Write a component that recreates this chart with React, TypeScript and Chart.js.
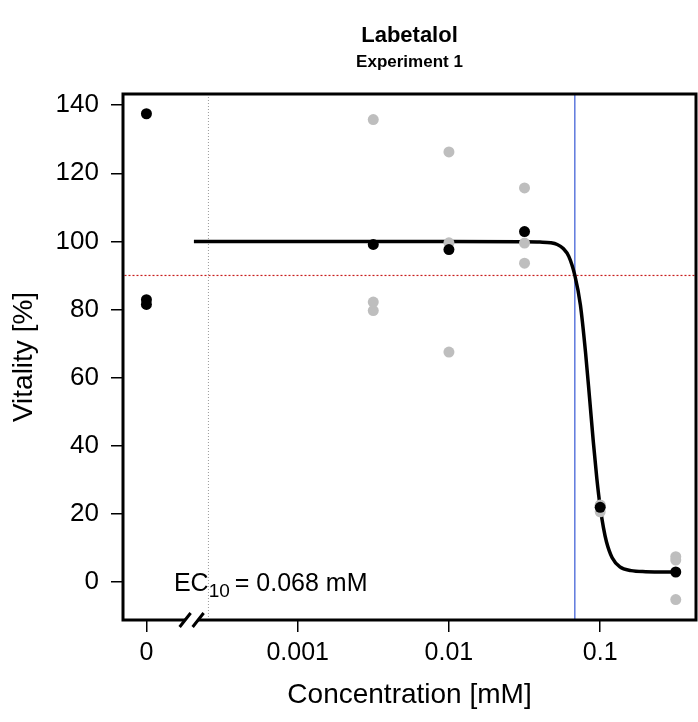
import React, { useEffect, useRef } from "react";
import { Chart, registerables } from "chart.js";

Chart.register(...registerables);

const FONT = "'Liberation Sans', Arial, sans-serif";

const TITLE = "Labetalol";
const SUBTITLE = "Experiment 1";
const X_LABEL = "Concentration [mM]";
const Y_LABEL = "Vitality [%]";

const X_TICKS = [0.0001, 0.001, 0.01, 0.1];
const X_TICK_LABELS = ["0", "0.001", "0.01", "0.1"];
const Y_TICKS = [0, 20, 40, 60, 80, 100, 120, 140];

const X_MIN = 7.16e-5;
const X_MAX = 0.43;
const Y_MIN = -11.2;
const Y_MAX = 143.3;

// Control (concentration 0, drawn at the "0" position)
const CONTROL_X = [0.0001, 0.0001, 0.0001];
const CONTROL_Y = [137.5, 82.9, 81.5];

// Replicate measurements (gray)
const REP_X = [0.00316, 0.00316, 0.00316, 0.01, 0.01, 0.01, 0.0316, 0.0316, 0.0316, 0.1, 0.1, 0.1, 0.316, 0.316, 0.316];
const REP_Y = [135.8, 82.2, 79.7, 126.3, 99.6, 67.5, 115.7, 99.5, 93.6, 22.6, 22.4, 20.6, 7.4, 6.4, -5.2];

// Means (black)
const MEAN_X = [0.00316, 0.01, 0.0316, 0.1, 0.316];
const MEAN_Y = [99.1, 97.6, 102.9, 21.9, 2.9];

// Fitted dose-response curve
const CURVE_X = [0.000206, 0.001, 0.01, 0.03, 0.04, 0.047, 0.052, 0.057, 0.062, 0.068, 0.074, 0.08, 0.085, 0.09, 0.095, 0.1, 0.105, 0.11, 0.12, 0.135, 0.16, 0.2, 0.316];
const CURVE_Y = [100, 100, 100, 99.9, 99.8, 99.6, 99.1, 97.9, 95.6, 90, 81.3, 67.4, 54.2, 41.3, 30.4, 22, 16, 11.8, 7.1, 4.4, 3.3, 3.0, 2.9];

const EC10 = 0.068;
const EC_LEVEL = 90;
const GUIDE_X = 0.000257;
const BREAK_X = 0.000199;
const EC_TEXT_MAIN = "EC";
const EC_TEXT_SUB = "10";
const EC_TEXT_REST = "= 0.068 mM";
const EC_TEXT_X = 0.000152;
const EC_TEXT_Y = 0;

const pts = (xs: number[], ys: number[]) => xs.map((x, i) => ({ x, y: ys[i] }));

const decorations = {
  id: "decorations",
  beforeDraw(chart: any) {
    const { ctx, chartArea } = chart;
    const cx = (chartArea.left + chartArea.right) / 2;
    ctx.save();
    ctx.fillStyle = "#ffffff";
    ctx.fillRect(0, 0, chart.width, chart.height);
    ctx.fillStyle = "#000";
    ctx.textAlign = "center";
    ctx.textBaseline = "middle";
    ctx.font = `bold 22px ${FONT}`;
    ctx.fillText(TITLE, cx, 36);
    ctx.font = `bold 17px ${FONT}`;
    ctx.fillText(SUBTITLE, cx, 62);
    // axis titles
    ctx.font = `28px ${FONT}`;
    ctx.fillText(X_LABEL, cx, 695);
    ctx.save();
    ctx.translate(24, (chartArea.top + chartArea.bottom) / 2);
    ctx.rotate(-Math.PI / 2);
    ctx.fillText(Y_LABEL, 0, 0);
    ctx.restore();
    ctx.restore();
  },
  afterDraw(chart: any) {
    const { ctx, chartArea, scales } = chart;
    const xs = scales.x;
    const ys = scales.y;
    ctx.save();
    // box
    ctx.strokeStyle = "#000";
    ctx.lineWidth = 3;
    ctx.strokeRect(chartArea.left, chartArea.top, chartArea.right - chartArea.left, chartArea.bottom - chartArea.top);
    // axis break
    const bx = xs.getPixelForValue(BREAK_X);
    const by = chartArea.bottom;
    ctx.fillStyle = "#fff";
    ctx.beginPath();
    ctx.moveTo(bx - 12, by + 7);
    ctx.lineTo(bx - 1, by - 7);
    ctx.lineTo(bx + 12, by - 7);
    ctx.lineTo(bx + 1, by + 7);
    ctx.closePath();
    ctx.fill();
    ctx.lineWidth = 3;
    ctx.beginPath();
    ctx.moveTo(bx - 12, by + 7);
    ctx.lineTo(bx - 1, by - 7);
    ctx.moveTo(bx + 1, by + 7);
    ctx.lineTo(bx + 12, by - 7);
    ctx.stroke();
    // EC label
    const tx = xs.getPixelForValue(EC_TEXT_X);
    const ty = ys.getPixelForValue(EC_TEXT_Y) + 9;
    ctx.fillStyle = "#000";
    ctx.textAlign = "left";
    ctx.textBaseline = "alphabetic";
    ctx.font = `25px ${FONT}`;
    ctx.fillText(EC_TEXT_MAIN, tx, ty);
    let w = ctx.measureText(EC_TEXT_MAIN).width;
    ctx.font = `19px ${FONT}`;
    ctx.fillText(EC_TEXT_SUB, tx + w, ty + 6);
    w += ctx.measureText(EC_TEXT_SUB).width + 5;
    ctx.font = `25px ${FONT}`;
    ctx.fillText(EC_TEXT_REST, tx + w, ty);
    ctx.restore();
  },
};

export default function App() {
  const ref = useRef<HTMLCanvasElement | null>(null);
  useEffect(() => {
    if (!ref.current) return;
    const chart = new Chart(ref.current, {
      type: "scatter",
      data: {
        datasets: [
          {
            label: "control",
            data: pts(CONTROL_X, CONTROL_Y),
            pointRadius: 5.5,
            pointBackgroundColor: "#000",
            pointBorderWidth: 0,
            order: 0,
          },
          {
            label: "means",
            data: pts(MEAN_X, MEAN_Y),
            pointRadius: 5.5,
            pointBackgroundColor: "#000",
            pointBorderWidth: 0,
            order: 0,
          },
          {
            label: "replicates",
            data: pts(REP_X, REP_Y),
            pointRadius: 5.5,
            pointBackgroundColor: "#BEBEBE",
            pointBorderWidth: 0,
            order: 1,
          },
          {
            label: "fit",
            data: pts(CURVE_X, CURVE_Y),
            showLine: true,
            borderColor: "#000",
            borderWidth: 3.5,
            pointRadius: 0,
            cubicInterpolationMode: "monotone",
            order: 2,
          },
          {
            label: "guide",
            data: [{ x: GUIDE_X, y: Y_MIN }, { x: GUIDE_X, y: Y_MAX }],
            showLine: true,
            borderColor: "#9a9a9a",
            borderWidth: 1,
            borderDash: [1, 2],
            pointRadius: 0,
            order: 3,
          },
          {
            label: "level",
            data: [{ x: X_MIN, y: EC_LEVEL }, { x: X_MAX, y: EC_LEVEL }],
            showLine: true,
            borderColor: "#C81E1E",
            borderWidth: 1.2,
            borderDash: [2, 2],
            pointRadius: 0,
            order: 3,
          },
          {
            label: "ec10",
            data: [{ x: EC10, y: Y_MIN }, { x: EC10, y: Y_MAX }],
            showLine: true,
            borderColor: "#2448D0",
            borderWidth: 1.1,
            pointRadius: 0,
            order: 3,
          },
        ],
      },
      options: {
        animation: false,
        responsive: false,
        devicePixelRatio: 1,
        layout: { autoPadding: false, padding: { top: 94, right: 2, left: 0, bottom: 0 } },
        plugins: { legend: { display: false }, tooltip: { enabled: false } },
        scales: {
          x: {
            type: "logarithmic",
            min: X_MIN,
            max: X_MAX,
            afterBuildTicks: (s: any) => {
              s.ticks = X_TICKS.map((v) => ({ value: v }));
            },
            afterFit: (s: any) => {
              s.height = 102;
            },
            border: { display: false },
            grid: { drawOnChartArea: false, drawTicks: true, tickLength: 12, color: "#000", lineWidth: 1.5 },
            ticks: {
              color: "#000",
              font: { family: FONT, size: 25 },
              padding: 6,
              maxRotation: 0,
              autoSkip: false,
              callback: (_v: any, i: number) => X_TICK_LABELS[i],
            },
          },
          y: {
            type: "linear",
            min: Y_MIN,
            max: Y_MAX,
            afterBuildTicks: (s: any) => {
              s.ticks = Y_TICKS.map((v) => ({ value: v }));
            },
            afterFit: (s: any) => {
              s.width = 123;
            },
            border: { display: false },
            grid: { drawOnChartArea: false, drawTicks: true, tickLength: 12, color: "#000", lineWidth: 1.5 },
            ticks: {
              color: "#000",
              font: { family: FONT, size: 26 },
              padding: 12,
              autoSkip: false,
              callback: (v: any) => String(v),
            },
          },
        },
      },
      plugins: [decorations],
    });
    return () => chart.destroy();
  }, []);
  return (
    <div style={{ position: "absolute", left: 0, top: 0, width: 698, height: 722 }}>
      <canvas ref={ref} width={698} height={722} />
    </div>
  );
}
